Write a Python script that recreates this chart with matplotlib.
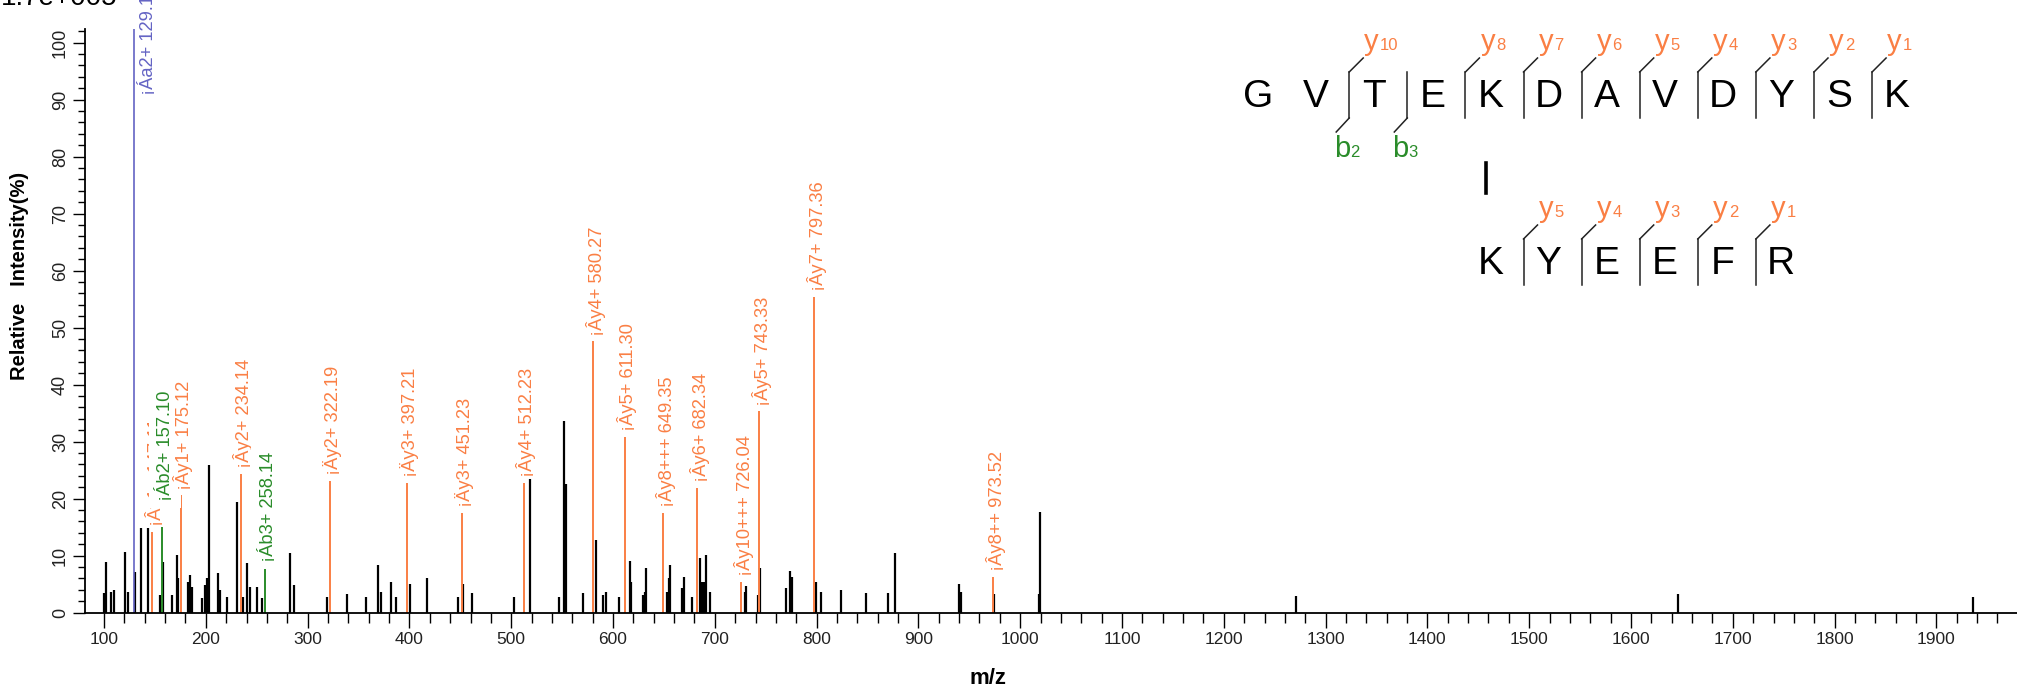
import matplotlib
matplotlib.use('Agg')
import matplotlib.pyplot as plt
from matplotlib.lines import Line2D
from matplotlib.ticker import MultipleLocator

plt.rcParams['font.family'] = ['Liberation Sans', 'DejaVu Sans']

W, H = 2017, 694

# ---------------- data ----------------
# unannotated (black) peaks
peak_mz = [100.0, 102.0, 106.9, 110.1, 120.3, 123.9, 130.1, 136.5, 143.4, 155.0,
           158.3, 166.3, 171.4, 172.6, 182.9, 184.5, 186.1, 196.0, 199.2, 200.8,
           202.7, 212.3, 214.0, 220.7, 230.5, 236.9, 240.5, 243.4, 250.3, 255.2,
           283.0, 286.4, 319.4, 339.1, 357.5, 369.0, 372.2, 382.0, 386.7, 400.3,
           417.0, 448.0, 452.9, 461.1, 502.5, 518.7, 547.0, 552.2, 554.1, 570.3,
           583.5, 589.9, 593.2, 606.3, 616.5, 618.1, 629.5, 631.0, 632.7, 653.2,
           654.9, 656.4, 667.8, 669.5, 677.8, 685.6, 687.2, 689.0, 690.9, 695.6,
           729.5, 731.0, 742.2, 744.7, 769.6, 774.3, 776.0, 799.7, 804.6, 824.2,
           849.0, 870.6, 877.0, 939.8, 941.5, 974.0, 1018.8, 1019.4, 1271.0, 1645.9,
           1936.3]
peak_int = [3.4, 8.9, 3.7, 4.0, 10.7, 3.7, 7.2, 14.8, 14.8, 3.1,
            8.9, 3.1, 10.1, 6.0, 5.4, 6.6, 4.5, 2.5, 4.8, 6.0,
            25.9, 6.9, 4.0, 2.7, 19.5, 2.7, 8.7, 4.5, 4.5, 2.5,
            10.4, 4.8, 2.7, 3.3, 2.7, 8.3, 3.7, 5.4, 2.7, 5.1,
            6.0, 2.8, 5.1, 3.4, 2.8, 23.4, 2.8, 33.7, 22.5, 3.4,
            12.7, 3.1, 3.7, 2.8, 9.0, 5.4, 3.1, 3.7, 7.8, 3.7,
            6.0, 8.4, 4.3, 6.3, 2.8, 9.6, 5.4, 5.4, 10.2, 3.7,
            3.7, 4.6, 3.1, 7.8, 4.3, 7.3, 6.3, 5.4, 3.7, 4.0,
            3.4, 3.4, 10.5, 5.0, 3.6, 3.3, 3.3, 17.7, 3.0, 3.3,
            2.7]

# annotated y ions (orange)
y_mz = [147.11, 175.12, 234.14, 322.19, 397.21, 451.23, 512.23, 580.27,
        611.30, 649.35, 682.34, 726.04, 743.33, 797.36, 973.52]
y_int = [14.2, 20.6, 24.4, 23.1, 22.8, 17.5, 22.8, 47.6,
         30.9, 17.5, 21.9, 5.4, 35.3, 55.4, 6.3]
y_labels = ['¡Ây1+ 147.11', '¡Ây1+ 175.12', '¡Ây2+ 234.14', '¡Äy2+ 322.19',
            '¡Äy3+ 397.21', '¡Äy3+ 451.23', '¡Ây4+ 512.23', '¡Ây4+ 580.27',
            '¡Ây5+ 611.30', '¡Ây8+++ 649.35', '¡Ây6+ 682.34', '¡Ây10+++ 726.04',
            '¡Ây5+ 743.33', '¡Ây7+ 797.36', '¡Ây8++ 973.52']

# annotated b ions (green)
b_mz = [157.10, 258.14]
b_int = [18.6, 8.0]
b_labels = ['¡Áb2+ 157.10', '¡Áb3+ 258.14']

# annotated a ion (blue)
a_mz = [129.10]
a_int = [102.4]
a_labels = ['¡Áa2+ 129.10']

x_ticks = list(range(100, 2000, 100))
y_ticks = list(range(0, 101, 10))

# peptide diagram
alpha_seq = list("GVTEKDAVDYSK")
beta_seq = list("KYEEFR")
alpha_y_ions = [10, 8, 7, 6, 5, 4, 3, 2, 1]
alpha_b_ions = [2, 3]
beta_y_ions = [5, 4, 3, 2, 1]
link_alpha_pos = 4   # K (0-based)
link_beta_pos = 0    # K (0-based)

ORANGE = '#FA7F44'
GREEN = '#2A8C2A'
BLUE = '#6464C4'

# ---------------- figure ----------------
fig = plt.figure(figsize=(W / 100, H / 100), dpi=100)
ax_left = 85 / W
ax_bottom = (H - 612.7) / H
ax_top = (H - 29) / H
ax = fig.add_axes([ax_left, ax_bottom, 1 - ax_left, ax_top - ax_bottom])

ax.set_xlim(81.3, 1979.2)
ax.set_ylim(0, 102.4)

ax.vlines(peak_mz, 0, peak_int, color='black', lw=1.6, zorder=2)
ax.vlines(y_mz, 0, y_int, color=ORANGE, lw=1.4, zorder=2)
ax.vlines(b_mz, 0, b_int, color=GREEN, lw=1.4, zorder=2)
ax.vlines(a_mz, 0, a_int, color=BLUE, lw=1.2, zorder=2)

ann = []
for m, v, s in zip(y_mz, y_int, y_labels):
    ann.append((m, v, s, ORANGE, 0.02))
for m, v, s in zip(b_mz, b_int, b_labels):
    ann.append((m, v, s, GREEN, 0.4))
for m, v, s in zip(a_mz, a_int, a_labels):
    ann.append((m, v, s, BLUE, 0.02))
ann.sort(key=lambda t: t[0])

for k, (m, v, s, c, pad) in enumerate(ann):
    if v > 90:
        xy = (m, 90.8)
        off = (10, 0)
    else:
        xy = (m, v)
        off = (2, 4)
    ax.annotate(s, xy=xy, xytext=off, textcoords='offset points',
                rotation=90, ha='center', va='bottom', color=c, fontsize=13.2,
                bbox=dict(boxstyle='square,pad=%g' % pad, fc='white', ec='none'),
                zorder=5 + k, annotation_clip=False)

for side in ['top', 'right']:
    ax.spines[side].set_visible(False)
for side in ['left', 'bottom']:
    ax.spines[side].set_linewidth(1.3)
    ax.spines[side].set_color('black')

ax.set_xticks(x_ticks)
ax.set_xticklabels([str(t) for t in x_ticks])
ax.xaxis.set_minor_locator(MultipleLocator(20))
ax.set_yticks(y_ticks)
ax.set_yticklabels([str(t) for t in y_ticks])
ax.yaxis.set_minor_locator(MultipleLocator(2))

ax.tick_params(axis='x', which='major', length=10.8, width=1.0, labelsize=12.5, pad=3,
               labelcolor='#222222')
ax.tick_params(axis='x', which='minor', length=7.0, width=1.0)
ax.tick_params(axis='y', which='major', length=8.6, width=1.0, labelsize=13, pad=3,
               labelrotation=90, labelcolor='#222222')
ax.tick_params(axis='y', which='minor', length=5.0, width=1.0)
for lab in ax.get_yticklabels():
    lab.set_va('center')

def fx(x):
    return x / W

def fy(y):
    return 1 - y / H

fig.text(fx(20), fy(276), 'Relative   Intensity(%)', rotation=90, ha='center',
         va='center', fontweight='bold', fontsize=14.5)
fig.text(fx(988), fy(679), 'm/z', ha='center', va='center', fontweight='bold',
         fontsize=16)
fig.text(fx(1), fy(5), '1.7e+005', ha='left', va='baseline', fontsize=20)

# ---------------- peptide diagram ----------------
x0, dx = 1258.0, 58.1
base1, base2 = 107.0, 274.0
row_shift = base2 - base1
line_col = '#222222'


def seg(x1, y1, x2, y2, lw=1.1, col=line_col):
    fig.add_artist(Line2D([fx(x1), fx(x2)], [fy(y1), fy(y2)],
                          transform=fig.transFigure, color=col, lw=lw))


for i, ch in enumerate(alpha_seq):
    fig.text(fx(x0 + i * dx), fy(base1), ch, ha='center', va='baseline',
             fontsize=28, color='black')
for j, ch in enumerate(beta_seq):
    fig.text(fx(x0 + (link_alpha_pos + j) * dx), fy(base2), ch, ha='center',
             va='baseline', fontsize=28, color='black')


def cleavage(pos_x, shift, yion=None, bion=None):
    lx = pos_x - 25
    seg(lx, 72 + shift, lx, 118 + shift)
    if yion is not None:
        seg(lx, 72 + shift, lx + 14, 58 + shift)
        fig.text(fx(lx + 15), fy(50 + shift), 'y', ha='left', va='baseline',
                 fontsize=21, color=ORANGE)
        fig.text(fx(lx + 31), fy(50 + shift), str(yion), ha='left',
                 va='baseline', fontsize=12, color=ORANGE)
    if bion is not None:
        seg(lx, 118 + shift, lx - 13, 132 + shift)
        fig.text(fx(lx - 15), fy(157 + shift), 'b', ha='left', va='baseline',
                 fontsize=21, color=GREEN)
        fig.text(fx(lx + 1), fy(157 + shift), str(bion), ha='left',
                 va='baseline', fontsize=12, color=GREEN)


n_a = len(alpha_seq)
cuts = {}
for n in alpha_y_ions:
    cuts.setdefault(n_a - n, {})['y'] = n
for n in alpha_b_ions:
    cuts.setdefault(n, {})['b'] = n
for pos, d in cuts.items():
    cleavage(x0 + pos * dx, 0, d.get('y'), d.get('b'))

n_b = len(beta_seq)
for n in beta_y_ions:
    cleavage(x0 + (link_alpha_pos + n_b - n) * dx, row_shift, n, None)

# crosslink bar
lxk = x0 + link_alpha_pos * dx - 4
seg(lxk, 163, lxk, 193, lw=2.6, col='black')

fig.savefig('out.png', dpi=100, facecolor='white')
